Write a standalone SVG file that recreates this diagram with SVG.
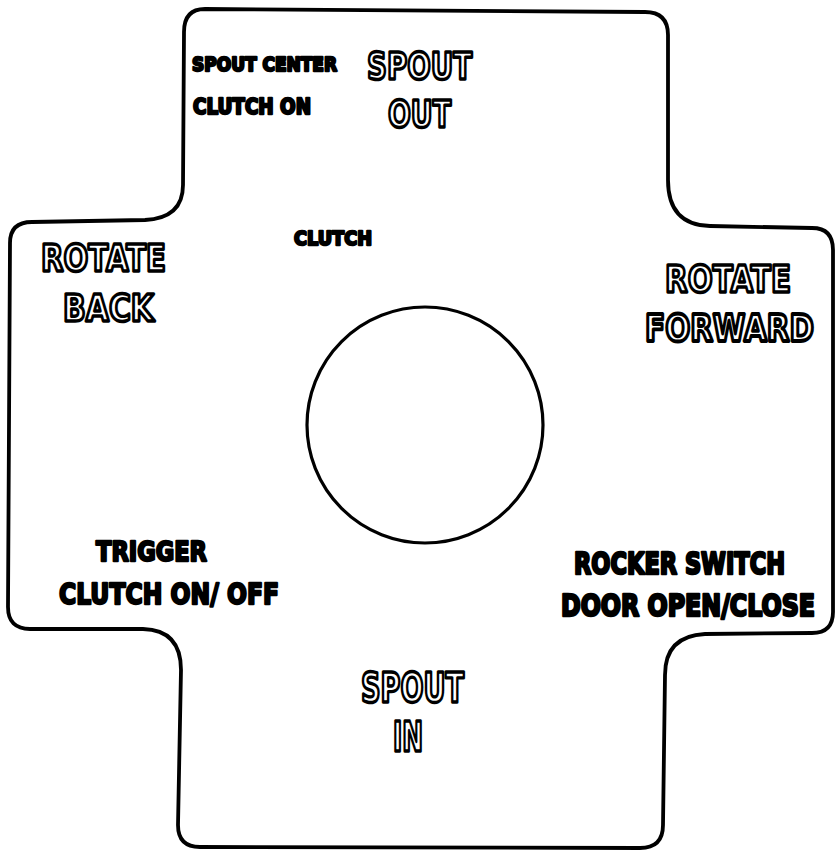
<svg xmlns="http://www.w3.org/2000/svg" width="835" height="851" viewBox="0 0 835 851">
<style>
.big{font-family:"DejaVu Sans","Liberation Sans",sans-serif;font-weight:bold;fill:#fff;stroke:#000;stroke-width:3.4;stroke-linejoin:round}
.sm{font-family:"DejaVu Sans","Liberation Sans",sans-serif;font-weight:bold;fill:#000;stroke:#000;stroke-width:2.4;stroke-linejoin:round}
.ns{vector-effect:non-scaling-stroke}
</style>
<rect width="835" height="851" fill="#fff"/>
<g id="plate">
<path d="M 205,9 L 645,12 Q 668,12 668,35 L 668,180 Q 668,225 710,226 L 812,228 Q 833,228 833,250 L 833,612 Q 833,633 812,633 L 705,634 Q 665,636 665,675 L 663,825 Q 663,848 640,848 L 200,847 Q 178,847 178,825 L 181,670 Q 181,630 143,629 L 30,629 Q 8,629 8,607 L 10,243 Q 10,222 32,222 L 145,220 Q 183,218 183,185 L 184,32 Q 184,9 205,9 Z" fill="#fff" stroke="#000" stroke-width="3.8"/>
<circle cx="425" cy="425" r="118" fill="#fff" stroke="#000" stroke-width="3.2"/>
</g>
<g id="labels">
<text class="sm" x="192" y="71" font-size="19" textLength="145" lengthAdjust="spacingAndGlyphs">SPOUT CENTER</text>
<text class="sm" x="193" y="114" font-size="21" textLength="118" lengthAdjust="spacingAndGlyphs">CLUTCH ON</text>
<text class="big" x="367" y="79" font-size="38" textLength="105" lengthAdjust="spacingAndGlyphs">SPOUT</text>
<text class="big" x="388" y="127" font-size="38" textLength="63" lengthAdjust="spacingAndGlyphs">OUT</text>
<text class="sm" x="294" y="245" font-size="20" textLength="78" lengthAdjust="spacingAndGlyphs">CLUTCH</text>
<text class="big" x="41" y="271" font-size="37" textLength="125" lengthAdjust="spacingAndGlyphs">ROTATE</text>
<text class="big" x="63" y="321" font-size="37" textLength="91" lengthAdjust="spacingAndGlyphs">BACK</text>
<text class="big" x="665" y="292" font-size="38" textLength="126" lengthAdjust="spacingAndGlyphs">ROTATE</text>
<text class="big ns" transform="translate(645,341) scale(1,1.267)" x="0" y="0" font-size="30" textLength="169" lengthAdjust="spacingAndGlyphs">FORWARD</text>
<text class="sm" x="96" y="561" font-size="27" textLength="111" lengthAdjust="spacingAndGlyphs">TRIGGER</text>
<text class="sm" x="59" y="604" font-size="29" textLength="220" lengthAdjust="spacingAndGlyphs">CLUTCH ON/ OFF</text>
<text class="sm ns" transform="translate(574,574) scale(1,1.304)" x="0" y="0" font-size="23" textLength="211" lengthAdjust="spacingAndGlyphs">ROCKER SWITCH</text>
<text class="sm ns" transform="translate(561,616) scale(1,1.25)" x="0" y="0" font-size="24" textLength="254" lengthAdjust="spacingAndGlyphs">DOOR OPEN/CLOSE</text>
<text class="big" x="361" y="702" font-size="40" textLength="103" lengthAdjust="spacingAndGlyphs">SPOUT</text>
<text class="big" x="393" y="751" font-size="40" textLength="30" lengthAdjust="spacingAndGlyphs">IN</text>
</g>
</svg>
